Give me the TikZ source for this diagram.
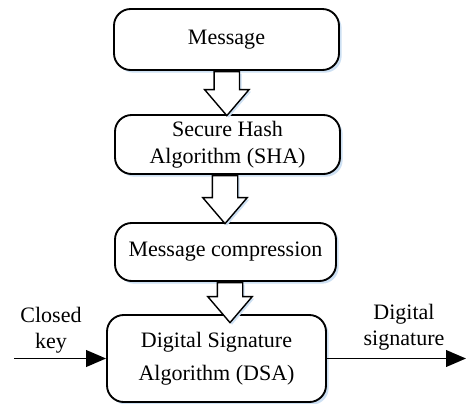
\documentclass[tikz,border=0pt]{standalone}
\usepackage{fontspec}
\setmainfont{Liberation Serif}
\usepackage{tikz}
\usetikzlibrary{shapes.arrows, arrows.meta, positioning, calc, shadows}
\definecolor{mydark}{RGB}{0,0,0}
\definecolor{myshadow}{RGB}{205,224,243}
\tikzset{
  box/.style={rectangle, draw=mydark, fill=white, align=center,
    rounded corners=0.5cm, line width=1.6pt, inner sep=0pt,
    font=\fontsize{18.8}{23}\selectfont,
    drop shadow={shadow xshift=0.08cm, shadow yshift=-0.08cm, fill=myshadow, opacity=1}},
  hollow/.style={single arrow, draw=mydark, fill=white, rotate=-90, anchor=tail,
    line width=1.2pt, inner xsep=0pt, inner ysep=0.36cm, minimum width=0pt,
    single arrow head extend=0.285cm, single arrow tip angle=81,
    drop shadow={shadow xshift=0.06cm, shadow yshift=-0.06cm, fill=myshadow, opacity=1}},
  arrow/.style={-{Triangle[length=0.6cm, width=0.5cm]}, line width=1.6pt, color=mydark},
  note/.style={align=center, inner sep=0pt, font=\fontsize{18.8}{22}\selectfont}
}
\begin{document}
\begin{tikzpicture}
    \useasboundingbox (0,0) rectangle (13.98,-12.09);
    \clip (0,0) rectangle (13.98,-12.09);
    % boxes
    \node[box, minimum width=6.75cm, minimum height=1.83cm] (msg) at (6.795,-1.185) {Message};
    \node[box, minimum width=6.75cm, minimum height=1.77cm] (sha) at (6.825,-4.335) {Secure Hash\\Algorithm (SHA)};
    \node[box, minimum width=6.63cm, minimum height=1.74cm] (comp) at (6.765,-7.56) {Message compression};
    \node[box, minimum width=6.57cm, minimum height=2.61cm,
      font=\fontsize{18.8}{28}\selectfont] (dsa) at (6.495,-10.755) {Digital Signature\\Algorithm (DSA)};
    % block arrows
    \node[hollow, minimum height=1.32cm] (a1) at ($(msg.south)+(0.01,0)$) {};
    \node[hollow, minimum height=1.44cm] (a2) at ($(sha.south)+(-0.075,0)$) {};
    \node[hollow, minimum height=1.2cm] (a3) at ($(comp.south)+(0.135,0)$) {};
    % key in, signature out
    \coordinate (kin) at (0.42,-10.755);
    \coordinate (sout) at (13.98,-10.755);
    \draw[arrow] (kin) -- (dsa.west);
    \draw[arrow] (dsa.east) -- (sout);
    \node[note] (key) at (1.53,-9.9) {Closed\\key};
    \node[note] (sig) at (12.12,-9.81) {Digital\\signature};
\end{tikzpicture}
\end{document}
